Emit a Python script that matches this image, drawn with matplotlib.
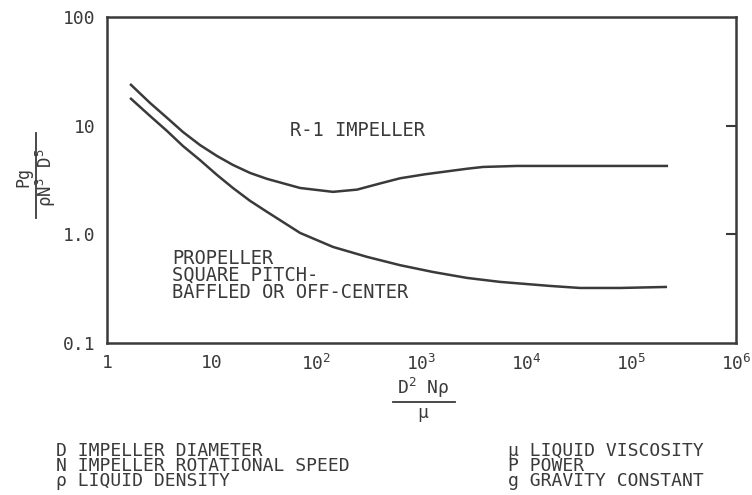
import numpy as np
import matplotlib
matplotlib.use("Agg")
import matplotlib.pyplot as plt
from matplotlib.lines import Line2D

# Power number vs. Reynolds number for two agitator types
re_r1 = [1.66, 2.57, 3.74, 5.3, 7.7, 11.2, 15.9, 23.2, 33.6, 69.5, 143, 243, 403, 625, 1082,
         1876, 2750, 3870, 8140, 2.25e5]
np_r1 = [24.2, 16.2, 11.8, 8.75, 6.64, 5.26, 4.35, 3.67, 3.24, 2.67, 2.46, 2.58, 2.94, 3.28,
         3.57, 3.83, 4.02, 4.17, 4.26, 4.26]

re_prop = [1.66, 2.57, 3.74, 5.3, 7.7, 11.2, 15.9, 23.2, 33.6, 69.5, 143, 303, 625, 1291, 2722,
           5620, 16900, 32400, 78500, 2.2e5]
np_prop = [18.0, 12.3, 8.93, 6.50, 4.83, 3.52, 2.67, 2.03, 1.61, 1.03, 0.766, 0.62, 0.52, 0.45,
           0.397, 0.365, 0.335, 0.321, 0.321, 0.328]

x_ticks = [1, 10, 1e2, 1e3, 1e4, 1e5, 1e6]
x_labels = ["1", "10", r"$10^2$", r"$10^3$", r"$10^4$", r"$10^5$", r"$10^6$"]
y_ticks = [0.1, 1, 10, 100]
y_labels = ["0.1", "1.0", "10", "100"]

legend_left = ["D IMPELLER DIAMETER", "N IMPELLER ROTATIONAL SPEED", "\u03c1 LIQUID DENSITY"]
legend_right = ["\u03bc LIQUID VISCOSITY", "P POWER", "g GRAVITY CONSTANT"]

ink = "#3a3a3a"
plt.rcParams["font.family"] = ["DejaVu Sans Mono"]
plt.rcParams["mathtext.fontset"] = "custom"
plt.rcParams["mathtext.rm"] = "DejaVu Sans Mono"
plt.rcParams["mathtext.it"] = "DejaVu Sans Mono"
plt.rcParams["mathtext.default"] = "rm"

W, H = 752, 495
fig = plt.figure(figsize=(W / 100, H / 100), dpi=100)
fig.patch.set_facecolor("white")


def fx(px):
    return px / W


def fy(py):
    return 1 - py / H


ax = fig.add_axes([fx(107), fy(343), (736 - 107) / W, (343 - 17) / H])
ax.set_xscale("log")
ax.set_yscale("log")
ax.set_xlim(1, 1e6)
ax.set_ylim(0.1, 100)

ax.plot(re_r1, np_r1, color=ink, lw=1.8, solid_capstyle="butt", solid_joinstyle="round")
ax.plot(re_prop, np_prop, color=ink, lw=1.8, solid_capstyle="butt", solid_joinstyle="round")

for sp in ax.spines.values():
    sp.set_color(ink)
    sp.set_linewidth(1.8)

ax.set_xticks(x_ticks, x_labels)
ax.set_yticks(y_ticks, y_labels)
ax.set_xticks([1e2, 1e3, 1e4, 1e5], minor=True)
ax.set_yticks([1, 10], minor=True)
ax.tick_params(which="major", length=0, labelsize=13, labelcolor=ink)
ax.tick_params(axis="x", which="major", pad=8)
ax.tick_params(axis="y", which="major", pad=8)
ax.tick_params(axis="x", which="minor", direction="in", length=5, width=1, color=ink,
               top=True, bottom=True)
ax.tick_params(axis="y", which="minor", direction="in", length=12, width=1.5, color=ink,
               left=True, right=False)

# short inward ticks on the right frame
sec = ax.secondary_yaxis("right")
sec.set_yticks([1, 10], ["", ""])
sec.set_yticks([], minor=True)
sec.tick_params(direction="in", length=7, width=1.5, color=ink)
sec.spines["right"].set_visible(False)

# curve labels (placed in axes fractions)
ax.text((290 - 107) / 629, (343 - 130) / 326, "R-1 IMPELLER", transform=ax.transAxes,
        fontsize=13.5, color=ink, va="center", ha="left")
ax.text((172 - 107) / 629, (343 - 275.5) / 326,
        "PROPELLER\nSQUARE PITCH-\nBAFFLED OR OFF-CENTER", transform=ax.transAxes,
        fontsize=13.5, color=ink, va="center", ha="left", linespacing=0.84)

# y-axis label as a stacked fraction
fig.text(fx(23), fy(177), "Pg", rotation=90, ha="center", va="center", fontsize=12, color=ink)
fig.add_artist(Line2D([fx(36), fx(36)], [fy(133), fy(218)], color=ink, lw=1.3))
fig.text(fx(46), fy(178), r"$\rho$N$^3$ D$^5$", rotation=90, ha="center", va="center",
         fontsize=12.5, color=ink)

# x-axis label as a stacked fraction
fig.text(fx(423), fy(388), r"D$^2$ N$\rho$", ha="center", va="center", fontsize=13, color=ink)
fig.add_artist(Line2D([fx(393), fx(455)], [fy(402), fy(402)], color=ink, lw=1.3))
fig.text(fx(423), fy(415), r"$\mu$", ha="center", va="center", fontsize=13, color=ink)

# symbol legend, one text block per column
fig.text(fx(56), fy(466), "\n".join(legend_left), ha="left", va="center", fontsize=13,
         color=ink, linespacing=0.8)
fig.text(fx(508), fy(466), "\n".join(legend_right), ha="left", va="center", fontsize=13,
         color=ink, linespacing=0.8)

fig.savefig("out.png", dpi=100, facecolor="white")
